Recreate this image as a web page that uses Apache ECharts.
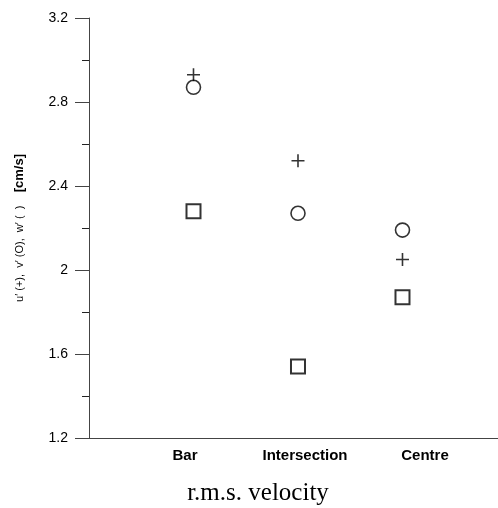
<!DOCTYPE html>
<html>
<head>
<meta charset="utf-8">
<script src="https://cdn.jsdelivr.net/npm/echarts@6/dist/echarts.min.js"></script>
<style>
  html, body { margin: 0; padding: 0; background: #fff; }
  #chart { width: 498px; height: 508px; }
</style>
</head>
<body>
<div id="chart"></div>
<script>
// Measurement locations
var categories = ['Bar', 'Intersection', 'Centre'];
// r.m.s. velocity components [cm/s]
var uPrime = [2.93, 2.52, 2.05];   // plus markers
var vPrime = [2.87, 2.27, 2.19];   // circle markers
var wPrime = [2.28, 1.54, 1.87];   // square markers
// Y axis ticks
var yMin = 1.2, yMax = 3.2, yStep = 0.4;

function points(values) {
  return values.map(function (v, i) { return [i + 1, v]; });
}

var plusPath = 'path://M0,6L12,6M6,0L6,12';
var markerStyle = { color: 'none', borderColor: '#000', borderWidth: 1.6 };
var sans = 'Liberation Sans, Arial, sans-serif';

var chart = echarts.init(document.getElementById('chart'), null, { renderer: 'canvas' });
chart.setOption({
  backgroundColor: '#fff',
  animation: false,
  textStyle: { fontFamily: sans },
  grid: [
    { left: 89, right: 0, top: 18, bottom: 70 },
    { left: 65, width: 420, top: 18, bottom: 70 }
  ],
  xAxis: [
    {
      type: 'value', gridIndex: 0, min: 0, max: 3.914, interval: 1,
      axisLine: { show: true, lineStyle: { color: '#444', width: 1 } },
      axisTick: { show: false },
      axisLabel: { show: false },
      splitLine: { show: false }
    },
    {
      type: 'value', gridIndex: 1, min: 0, max: 3.5, interval: 1,
      axisLine: { show: false },
      axisTick: { show: false },
      splitLine: { show: false },
      axisLabel: {
        margin: 10, color: '#000', fontSize: 15, fontWeight: 'bold',
        showMaxLabel: false,
        formatter: function (v) { return categories[v - 1] || ''; }
      }
    }
  ],
  yAxis: [
    {
      type: 'value', gridIndex: 0, min: yMin, max: yMax, interval: yStep,
      axisLine: { show: true, lineStyle: { color: '#444', width: 1 } },
      axisTick: { show: true, inside: false, length: 14, lineStyle: { color: '#444' } },
      minorTick: { show: true, splitNumber: 2, length: 7, lineStyle: { color: '#222' } },
      splitLine: { show: false },
      axisLabel: { margin: 21, color: '#000', fontSize: 14 },
      name: '{a|u\u2032 (+),  v\u2032 (O),  w\u2032 (  )}    {b|[cm/s]}',
      nameLocation: 'middle',
      nameRotate: 90,
      nameGap: 63,
      nameTextStyle: {
        rich: {
          a: { fontSize: 11, color: '#000', fontFamily: sans },
          b: { fontSize: 13, fontWeight: 'bold', color: '#000', fontFamily: sans }
        }
      }
    },
    {
      type: 'value', gridIndex: 1, min: yMin, max: yMax, show: false
    }
  ],
  graphic: [
    {
      type: 'text', x: 258, y: 493,
      style: {
        text: 'r.m.s. velocity',
        font: '25px "Liberation Serif", "Times New Roman", serif',
        fill: '#000',
        textAlign: 'center',
        textVerticalAlign: 'middle'
      }
    }
  ],
  series: [
    {
      type: 'scatter', xAxisIndex: 0, yAxisIndex: 0,
      symbol: plusPath, symbolSize: 13,
      itemStyle: markerStyle,
      data: points(uPrime)
    },
    {
      type: 'scatter', xAxisIndex: 0, yAxisIndex: 0,
      symbol: 'circle', symbolSize: 14,
      itemStyle: markerStyle,
      data: points(vPrime)
    },
    {
      type: 'scatter', xAxisIndex: 0, yAxisIndex: 0,
      symbol: 'rect', symbolSize: 14,
      itemStyle: { color: 'none', borderColor: '#000', borderWidth: 2 },
      data: points(wPrime)
    }
  ]
});
</script>
</body>
</html>
